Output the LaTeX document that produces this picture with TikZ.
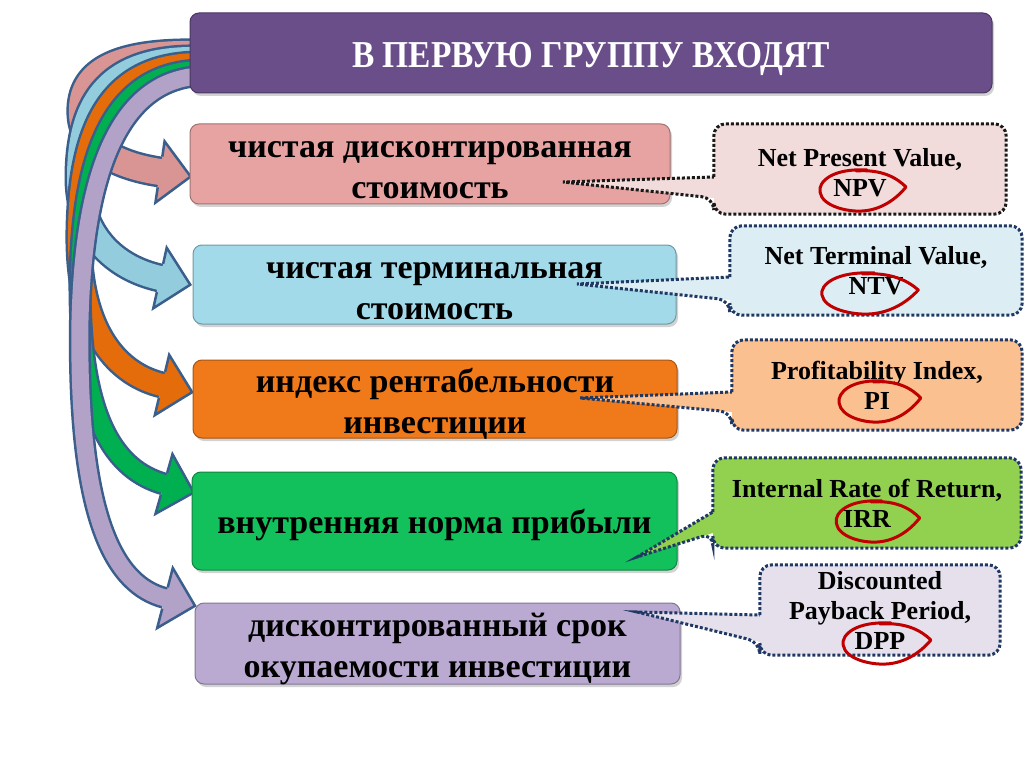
\documentclass[tikz,border=0pt]{standalone}
\usepackage{fontspec}
\setmainfont{Liberation Serif}
\newfontfamily\titlefont[FakeStretch=0.88]{Liberation Serif}
\usetikzlibrary{calc,shadows}
\definecolor{titlefill}{HTML}{6A4E8A}
\definecolor{fillA}{HTML}{E6A3A2}
\definecolor{fillB}{HTML}{A2DAEA}
\definecolor{fillC}{HTML}{F07A1A}
\definecolor{fillD}{HTML}{12C05C}
\definecolor{fillE}{HTML}{BAAAD2}
\definecolor{arrA}{HTML}{D99594}
\definecolor{arrB}{HTML}{93CDDD}
\definecolor{arrC}{HTML}{E46C0A}
\definecolor{arrD}{HTML}{00B050}
\definecolor{arrE}{HTML}{B3A2C7}
\definecolor{arrline}{HTML}{3A5F8C}
\definecolor{cA}{HTML}{F2DCDB}
\definecolor{cB}{HTML}{DCEEF4}
\definecolor{cC}{HTML}{FAC090}
\definecolor{cD}{HTML}{92D050}
\definecolor{cE}{HTML}{E6E0EC}
\definecolor{navy}{HTML}{1F3864}
\definecolor{loopred}{HTML}{C00000}
\tikzset{
  arrowline/.style={draw=arrline},
  mainbox/.style={rounded corners=9pt, minimum width=480pt, minimum height=80pt,
    draw=#1!70!black, line width=1pt, fill=#1,
    drop shadow={shadow xshift=2pt, shadow yshift=-3pt, opacity=0.35}},
  boxtext/.style={align=center, text=black, inner sep=0pt,
    font=\bfseries\fontsize{34}{41}\selectfont},
  callout/.style={rounded corners=12pt, fill=#1, align=center, inner sep=0pt,
    font=\bfseries\fontsize{26}{30}\selectfont},
  dotline/.style={draw=#1, line width=3pt, dash pattern=on 3pt off 2pt},
  loopline/.style={draw=loopred, line width=3pt, line cap=round, line join=round}
}
\newcommand{\bandarrow}[5]{%
  \draw[arrowline, line width=#2+5] #3;
  \draw[draw=#1, line width=#2] #3;
  \begin{scope}[shift={(#4)}, rotate=#5]
    \fill[#1] (-1,#2/2) -- (0,#2/2) -- (0,31) -- (31,0) -- (0,-31) -- (0,-#2/2) -- (-1,-#2/2) -- cycle;
    \draw[arrowline, line width=2.5pt, line join=miter] (0,#2/2+2.5) -- (0,31) -- (31,0) -- (0,-31) -- (0,-#2/2-2.5);
  \end{scope}}
\newcommand{\redloop}[2]{%
  \draw[loopline, shift={(#2)}, xscale=#1] (5,-20) .. controls (-30,-22) and (-44,-8) .. (-42,2)
    .. controls (-40,16) and (-15,22) .. (0,21) .. controls (20,20) and (35,8) .. (44,-3)
    .. controls (35,-12) and (20,-21) .. (-6,-19);}
\begin{document}
\begin{tikzpicture}[x=1pt,y=-1pt]
\useasboundingbox (0,0) rectangle (1024,767);
\fill[white] (0,0) rectangle (1024,767);

% curved block arrows from the title to the boxes
\bandarrow{arrA}{26}{(200,54) .. controls (105,52) and (80,78) .. (82,115) .. controls (84,150) and (120,166) .. (160,172)}{160,172}{-8.5}
\bandarrow{arrB}{24}{(200,59) .. controls (110,57) and (80,100) .. (79,175) .. controls (78,235) and (115,268) .. (160,278)}{160,278}{-12.5}
\bandarrow{arrC}{22}{(200,64) .. controls (115,64) and (81,120) .. (79,230) .. controls (77,335) and (120,375) .. (162,385)}{162,385}{-13.4}
\bandarrow{arrD}{18}{(200,70) .. controls (120,72) and (82,140) .. (80,280) .. controls (79,420) and (115,470) .. (164,484)}{164,484}{-15.9}
\bandarrow{arrE}{17}{(200,76) .. controls (125,80) and (84,160) .. (80,320) .. controls (77,520) and (115,585) .. (165,598)}{165,598}{-14.6}

% title and boxes
\node[mainbox=titlefill, minimum width=802pt, minimum height=80pt] (t) at (591,53) {};
\node[boxtext, text=white, font=\titlefont\bfseries\fontsize{38}{42}\selectfont] (tt) at ([yshift=-6pt]t.center) {В ПЕРВУЮ ГРУППУ ВХОДЯТ};
\node[mainbox=fillA, minimum width=480pt, minimum height=80pt] (b1) at (430,164) {};
\node[boxtext] (b1t) at ([yshift=-6pt]b1.center) {чистая дисконтированная\\стоимость};
\node[mainbox=fillB, minimum width=483pt, minimum height=79pt] (b2) at (434.5,284.5) {};
\node[boxtext] (b2t) at ([yshift=-7pt]b2.center) {чистая терминальная\\стоимость};
\node[mainbox=fillC, minimum width=484pt, minimum height=78pt] (b3) at (435,399) {};
\node[boxtext] (b3t) at ([yshift=-5pt]b3.center) {индекс рентабельности\\инвестиции};
\node[mainbox=fillD, minimum width=485pt, minimum height=98pt] (b4) at (434.5,521) {};
\node[boxtext] (b4t) at ([yshift=-4pt]b4.center) {внутренняя норма прибыли};
\node[mainbox=fillE, minimum width=485pt, minimum height=81pt] (b5) at (437.5,643.5) {};
\node[boxtext] (b5t) at ([yshift=-5pt]b5.center) {дисконтированный срок\\окупаемости инвестиции};

% callouts
\node[callout=cA, minimum width=292pt, minimum height=90pt] (c1) at (860,169) {};
\node[callout=none] (c1t) at ([yshift=-4pt]c1.center) {Net Present Value,\\NPV};
\node[callout=cB, minimum width=292pt, minimum height=89pt] (c2) at (876,270.5) {Net Terminal Value,\\NTV};
\node[callout=cC, minimum width=290pt, minimum height=90pt] (c3) at (877,385) {Profitability Index,\\PI};
\node[callout=cD, minimum width=308pt, minimum height=90pt] (c4) at (867,503) {Internal Rate of Return,\\IRR};
\node[callout=cE, minimum width=240pt, minimum height=90pt] (c5) at (880,610) {Discounted\\Payback Period,\\DPP};

\coordinate (p1) at (563,182);
\coordinate (p2) at (577,284);
\coordinate (p3) at (580,398);
\coordinate (p4) at (637,557);
\coordinate (p5) at (637,612);

\foreach \c/\p/\ya/\yb/\f/\l in {c1/p1/177/198/cA/black!90, c2/p2/277/300/cB/navy, c3/p3/392/412/cC/navy, c4/p4/512/533/cD/navy, c5/p5/615/642/cE/navy}{
  \fill[\f] (\p) -- (\c.west |- 0,\ya) -- (\c.west |- 0,\yb) -- cycle;
  \draw[dotline=\l] (\c.west |- 0,\ya) [rounded corners=12pt] -- (\c.north west) -- (\c.north east)
     -- (\c.south east) -- (\c.south west) -- (\c.west |- 0,\yb) [sharp corners] -- (\p) -- cycle;
}

% red hand-drawn loops
\redloop{1}{862,190}
\redloop{1.12}{869,293}
\redloop{0.95}{879,401}
\redloop{0.97}{877,521}
\redloop{1.02}{886,643}
\end{tikzpicture}
\end{document}
